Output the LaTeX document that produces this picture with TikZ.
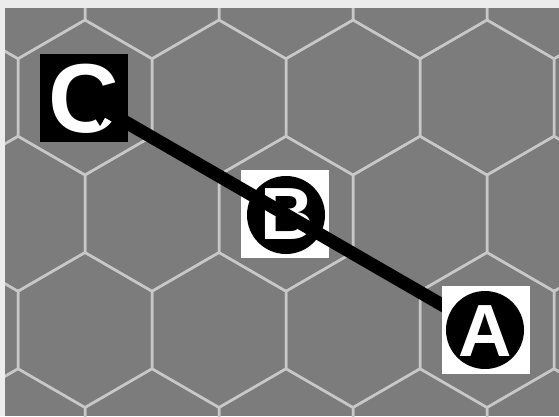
\documentclass[tikz,border=0pt]{standalone}
\usepackage{fontspec}
\setmainfont{Liberation Sans}
\usetikzlibrary{arrows.meta}
\definecolor{tile}{RGB}{124,124,124}
\definecolor{grout}{RGB}{200,200,200}
\definecolor{margin}{RGB}{236,236,236}
\pgfdeclarelayer{top}
\pgfsetlayers{main,top}
\begin{document}
\begin{tikzpicture}[x=1pt,y=-1pt,
  hexline/.style={draw=grout,line width=2.5pt,line join=miter},
  tokenbox/.style={rectangle,minimum size=88pt,inner sep=0pt,draw=none},
  disk/.style={circle,fill=black,minimum size=78pt,inner sep=0pt},
  letter/.style={text=white,inner sep=0pt,font=\fontsize{74}{74}\bfseries\selectfont},
  bigletter/.style={letter,font=\fontsize{98}{98}\bfseries\selectfont},
  route/.style={line width=13pt,-{Triangle[length=32pt,width=30pt]}}]
\useasboundingbox (0,0) rectangle (559,416);
\fill[margin] (0,0) rectangle (559,416);
\fill[tile] (5,8) rectangle (559,416);
\begin{scope}
\clip (5,8) rectangle (559,416);
\foreach \r in {-1,0,1,2,3} {
  \foreach \c in {-1,0,1,2,3,4} {
    \pgfmathsetmacro{\cx}{85+134*\c+67*mod(\r+10,2)}
    \pgfmathsetmacro{\cy}{97.5+116.25*\r}
    \draw[hexline] (\cx,\cy-77.5) -- (\cx+67,\cy-38.75) -- (\cx+67,\cy+38.75)
      -- (\cx,\cy+77.5) -- (\cx-67,\cy+38.75) -- (\cx-67,\cy-38.75) -- cycle;
  }
}
\end{scope}
% marker C
\node[tokenbox,fill=black] (C) at (84,98) {};
\node[bigletter] (Cl) at (84,99) {C};
% marker B
\node[tokenbox,fill=white] (B) at (285,214) {};
\node[disk] (Bd) at (286,215) {};
\node[letter] (Bl) at (287,214) {B};
% marker A (on top)
\begin{pgfonlayer}{top}
\node[tokenbox,fill=white] (A) at (485.5,330) {};
\node[disk] (Ad) at (485,330) {};
\node[letter] (Al) at (485,331) {A};
\end{pgfonlayer}
% route
\draw[route,shorten >=-4pt] (A.center) -- (C.center);
\end{tikzpicture}
\end{document}
